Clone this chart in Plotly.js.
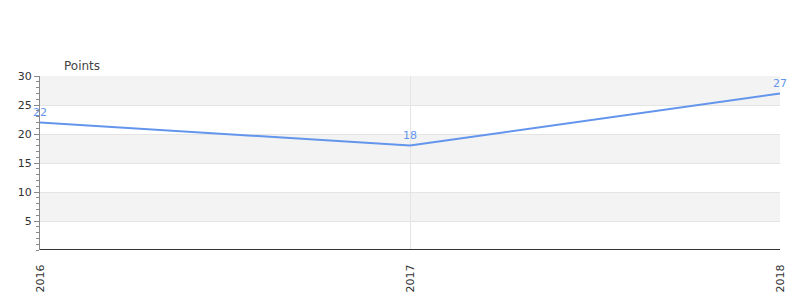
<!DOCTYPE html>
<html>
<head>
<meta charset="utf-8">
<script src="https://cdn.plot.ly/plotly-3.0.1.min.js"></script>
<style>html,body{margin:0;padding:0;background:#fff;}#chart{width:800px;height:300px;}</style>
</head>
<body>
<div id="chart"></div>
<script>
const years = ["2016", "2017", "2018"];
const points = [22, 18, 27];
const yTicks = [5, 10, 15, 20, 25, 30];
const yMax = 30;
const seriesName = "Points";

const lineColor = "#6495ED";
const font = "DejaVu Sans, Verdana, sans-serif";

// alternating background bands between ticks
const bandEdges = [0].concat(yTicks);
const shapes = [];
for (let i = 0; i < bandEdges.length - 1; i++) {
  const odd = (bandEdges.length - 2 - i) % 2 === 0;
  if (odd) {
    shapes.push({type: "rect", xref: "paper", yref: "y", x0: 0, x1: 1,
      y0: bandEdges[i], y1: bandEdges[i + 1], fillcolor: "#f3f3f3",
      line: {width: 0}, layer: "below"});
  }
}

const trace = {
  x: years, y: points, type: "scatter", mode: "lines+markers+text",
  text: points.map(String), textposition: "top center",
  textfont: {family: font, size: 11, color: lineColor},
  line: {color: lineColor, width: 2},
  marker: {size: 4, opacity: 0, color: lineColor},
  cliponaxis: false, hoverinfo: "skip", showlegend: false
};

const layout = {
  width: 800, height: 300,
  margin: {l: 40, r: 20, t: 76, b: 50, pad: 0},
  paper_bgcolor: "#fff", plot_bgcolor: "rgba(0,0,0,0)",
  font: {family: font, size: 11, color: "#333"},
  shapes: shapes,
  xaxis: {
    type: "category", range: [0, 2],
    tickangle: -90, ticks: "outside", ticklen: 9, tickcolor: "rgba(0,0,0,0)",
    showline: false,
    showgrid: true, gridcolor: "#e4e4e4", gridwidth: 1,
    zeroline: false, tickfont: {family: font, size: 11, color: "#333"},
    automargin: false
  },
  yaxis: {
    range: [0, yMax], tickvals: yTicks, ticktext: yTicks.map(String),
    ticks: "outside", ticklen: 5, tickcolor: "#888", tickwidth: 1,
    showline: true, linecolor: "#888", linewidth: 1,
    showgrid: true, gridcolor: "#e4e4e4", gridwidth: 1,
    zeroline: false,
    minor: {dtick: 1, ticklen: 3, tickcolor: "#888", ticks: "outside", showgrid: false},
    tickfont: {family: font, size: 11, color: "#333"},
    automargin: false
  },
  annotations: [{
    text: seriesName, xref: "paper", yref: "paper", x: 0.0297, y: 1,
    xanchor: "left", yanchor: "bottom", yshift: 1, showarrow: false,
    font: {family: font, size: 12, color: "#444"}
  }]
};

// baseline at y=0: dark line with a red line just under
layout.shapes.push({type: "line", xref: "paper", yref: "y", x0: 0, x1: 1, y0: 0, y1: 0,
  line: {color: "#333", width: 2}, layer: "above"});
layout.shapes.push({type: "line", xref: "paper", yref: "y", x0: 0, x1: 1, y0: -0.2, y1: -0.2,
  line: {color: "#b82a2a", width: 1}, layer: "above"});

Plotly.newPlot("chart", [trace], layout, {displayModeBar: false, staticPlot: true});
</script>
</body>
</html>
